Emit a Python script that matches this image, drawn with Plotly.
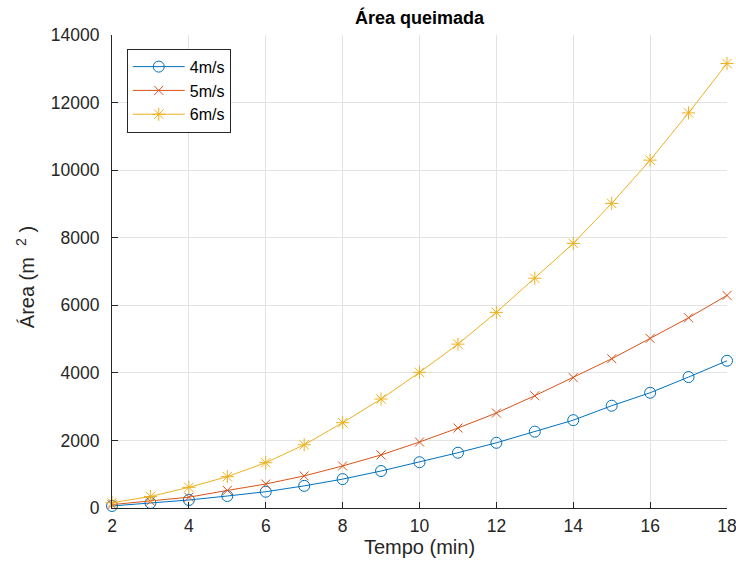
import plotly.graph_objects as go

tempo = [2, 3, 4, 5, 6, 7, 8, 9, 10, 11, 12, 13, 14, 15, 16, 17, 18]
area_4 = [60, 150, 237, 355, 482, 655, 855, 1095, 1355, 1636, 1930, 2260, 2600, 3027, 3411, 3876, 4358]
area_5 = [100, 200, 320, 520, 710, 950, 1245, 1570, 1953, 2367, 2811, 3322, 3860, 4417, 5020, 5630, 6293]
area_6 = [157, 340, 611, 927, 1341, 1870, 2525, 3225, 4015, 4850, 5790, 6800, 7831, 9015, 10296, 11695, 13157]

x_ticks = [2, 4, 6, 8, 10, 12, 14, 16, 18]
y_ticks = [0, 2000, 4000, 6000, 8000, 10000, 12000, 14000]

series = [
    ("4m/s", area_4, "#0072BD", "circle-open", 11),
    ("5m/s", area_5, "#D95319", "x-thin-open", 9),
    ("6m/s", area_6, "#EDB120", "asterisk-open", 11),
]

fig = go.Figure()
for name, vals, color, sym, size in series:
    fig.add_trace(go.Scatter(
        x=tempo, y=vals, name=name, mode="lines+markers",
        line=dict(color=color, width=1),
        marker=dict(symbol=sym, size=size, color=color, line=dict(color=color, width=1)),
        cliponaxis=False,
    ))

axis_common = dict(
    showgrid=True, gridcolor="#e3e3e3", gridwidth=1,
    showline=True, linecolor="#262626", linewidth=1,
    ticks="inside", ticklen=6, tickcolor="#262626",
    tickfont=dict(family="Liberation Sans, Arial", size=17.5, color="#262626"),
    zeroline=False, mirror=False, automargin=False,
    ticklabeloverflow="allow",
)

fig.update_layout(
    width=736, height=567,
    margin=dict(l=112, r=9, t=35, b=59),
    paper_bgcolor="white", plot_bgcolor="white",
    font=dict(family="Liberation Sans, Arial", color="#262626"),
    title=dict(text="<b>Área queimada</b>", x=(112 + 727) / 2 / 736, xanchor="center",
               y=1 - 18 / 567, yanchor="middle", yref="container",
               font=dict(size=18, color="black")),
    xaxis=dict(range=[2, 18], tickvals=x_ticks, ticktext=[str(v) for v in x_ticks],
               ticklabelstandoff=2,
               title=dict(text="Tempo (min)", font=dict(size=20, color="#262626"), standoff=4),
               **axis_common),
    yaxis=dict(range=[0, 14000], tickvals=y_ticks, ticktext=[str(v) for v in y_ticks],
               ticklabelstandoff=8,
               title=dict(text="Área (m  <sup>2</sup> )&nbsp;&nbsp;", font=dict(size=20, color="#262626"), standoff=10),
               **axis_common),
    legend=dict(x=0.024, y=0.971, xanchor="left", yanchor="top",
                bgcolor="white", bordercolor="#262626", borderwidth=1,
                font=dict(size=16, color="black"), tracegroupgap=0,
                itemwidth=52),
    showlegend=True,
)

fig.write_html("out.html")
